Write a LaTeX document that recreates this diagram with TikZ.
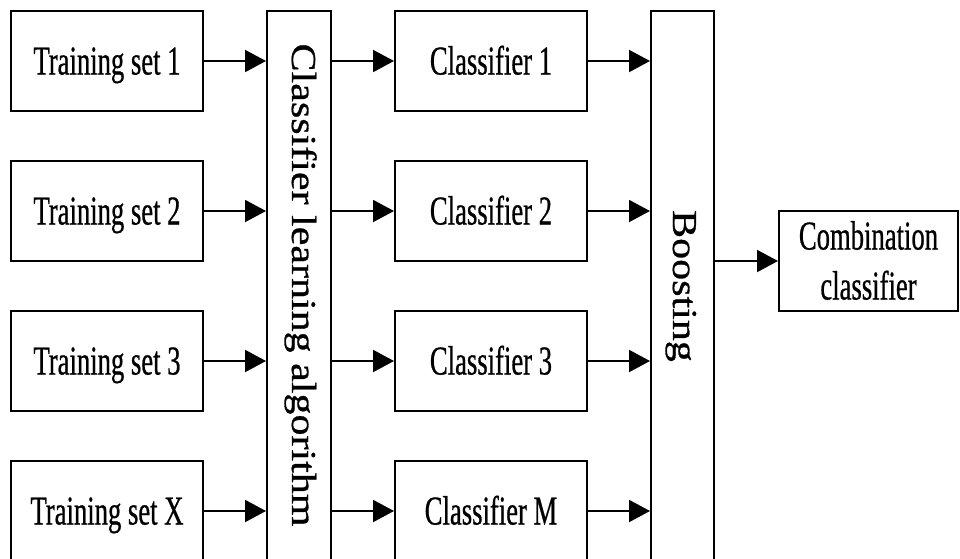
\documentclass[tikz,border=0pt]{standalone}
\usepackage{fontspec}
\setmainfont{Liberation Serif}
\newfontfamily\narrowfont[FakeStretch=0.65,FakeBold=0.6]{Liberation Serif}
\newfontfamily\wideserif[FakeStretch=1.2,FakeBold=0.8]{Liberation Serif}
\usetikzlibrary{arrows.meta}
\begin{document}
\begin{tikzpicture}[x=1pt,y=-1pt,
  box/.style={draw,line width=2pt,minimum width=192pt,minimum height=100pt,inner sep=0pt,
    font=\narrowfont\fontsize{41}{50}\selectfont,text height=27pt,text depth=0pt},
  tallbox/.style={draw,line width=2pt,inner sep=0pt},
  vlabel/.style={rotate=-90,anchor=base,inner sep=0pt,font=\wideserif\fontsize{35}{40}\selectfont},
  flow/.style={line width=2pt,-{Triangle[length=21pt,width=22pt]}}]
\useasboundingbox (0,0) rectangle (960,558);

% training sets
\node[box] (t1) at (107,61) {Training set 1};
\node[box] (t2) at (107,211) {Training set 2};
\node[box] (t3) at (107,361) {Training set 3};
\node[box] (tx) at (107,511) {Training set X};

% learning algorithm column
\node[tallbox,minimum width=64pt,minimum height=560pt] (alg) at (299,291) {};
\node[vlabel] (algtext) at (292,285) {Classifier learning algorithm};

% classifiers
\node[box] (c1) at (491,61) {Classifier 1};
\node[box] (c2) at (491,211) {Classifier 2};
\node[box] (c3) at (491,361) {Classifier 3};
\node[box] (cm) at (491,511) {Classifier M};

% boosting column
\node[tallbox,minimum width=63pt,minimum height=560pt] (boost) at (682.5,291) {};
\node[vlabel] (boosttext) at (673,286) {Boosting};

% combined result (two lines, caps of the first line to the last baseline)
\node[box,minimum width=179pt,align=center,text height=77pt,text depth=0pt] (comb) at (868.5,261)
  {Combination\\classifier};

% connectors
\foreach \a/\b in {t1/c1,t2/c2,t3/c3,tx/cm}{
  \draw[flow] (\a.east) -- (\a.east -| alg.west);
  \draw[flow] (\b.west -| alg.east) -- (\b.west);
  \draw[flow] (\b.east) -- (\b.east -| boost.west);
}
\draw[flow] (comb.west -| boost.east) -- (comb.west);
\end{tikzpicture}
\end{document}
